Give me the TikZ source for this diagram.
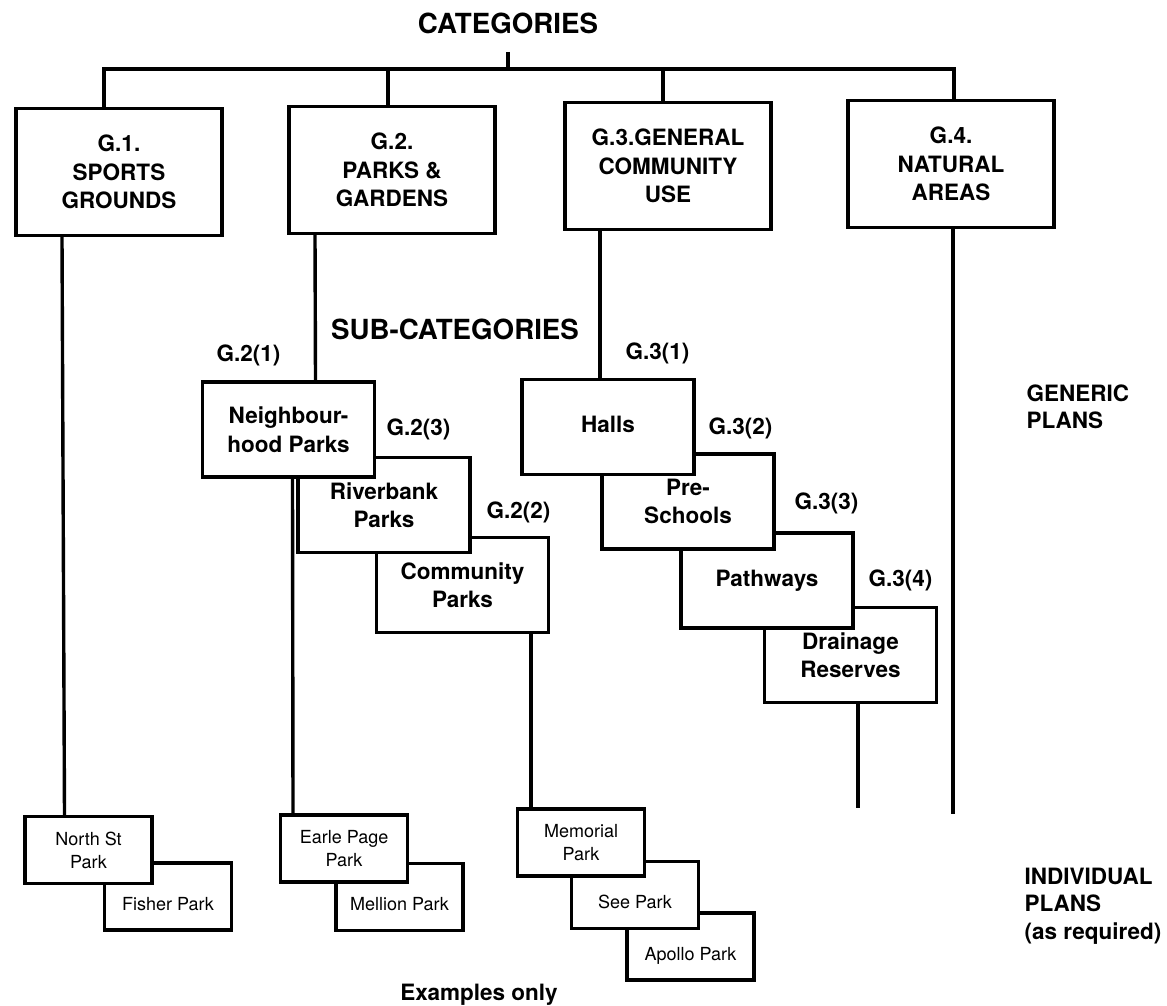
\documentclass[tikz,border=0pt]{standalone}
\usepackage{fontspec}
\setmainfont{TeX Gyre Heros}
\usetikzlibrary{positioning}

\begin{document}
\begin{tikzpicture}[x=1pt, y=-1pt, line width=3.4pt,
    catbox/.style={draw, fill=white, minimum width=206, minimum height=127, inner sep=0pt, align=center,
                   font=\fontsize{22.5}{28.5}\selectfont\bfseries},
    subbox/.style={draw, fill=white, minimum width=172, minimum height=95, inner sep=0pt, align=center,
                   font=\fontsize{22.5}{28.5}\selectfont\bfseries},
    parkbox/.style={draw, fill=white, minimum width=127, minimum height=67, inner sep=0pt, align=center,
                    font=\fontsize{18}{23}\selectfont},
    parkone/.style={parkbox, text height=27pt, text depth=0pt},
    head/.style={inner sep=0pt, anchor=base, font=\fontsize{27.7}{33}\selectfont\bfseries},
    lbl/.style={inner sep=0pt, anchor=base west, font=\fontsize{22.5}{27}\selectfont\bfseries},
    note/.style={inner sep=0pt, anchor=north west, align=left, font=\fontsize{22.5}{27.5}\selectfont\bfseries}]

    \fill[white] (0,0) rectangle (1167,1006);
    \useasboundingbox (0,0) rectangle (1167,1006);

    \node[head]     (cat)        at (508,34)      {CATEGORIES};
    \coordinate     (tick)       at (508,52);
    \coordinate     (bus)        at (508,69);

    \node[catbox]   (g1)         at (119,172)     {G.1.\\SPORTS\\GROUNDS};
    \node[catbox]   (g2)         at (392,170)     {G.2.\\PARKS \&\\GARDENS};
    \node[catbox]   (g3)         at (668,166)     {G.3.GENERAL\\COMMUNITY\\USE};
    \node[catbox]   (g4)         at (951,164)     {G.4.\\NATURAL\\AREAS};

    \node[head]     (subcat)     at (455,339.5)   {SUB-CATEGORIES};

    \node[subbox]   (community)  at (462.5,585)   {Community\\Parks};
    \node[subbox]   (riverbank)  at (384,505)     {Riverbank\\Parks};
    \node[subbox]   (neighbour)  at (288.5,429.5) {Neighbour-\\hood Parks};
    \node[subbox]   (drainage)   at (850.5,655)   {Drainage\\Reserves};
    \node[subbox]   (pathways)   at (767,580.5)   {Pathways};
    \node[subbox]   (preschools) at (688,501.5)   {Pre-\\Schools};
    \node[subbox, text depth=5pt] (halls) at (608,427) {Halls};

    \node[lbl]      (l21)        at (215,361)     {G.2(1)};
    \node[lbl]      (l23)        at (385,435)     {G.2(3)};
    \node[lbl]      (l22)        at (485,518)     {G.2(2)};
    \node[lbl]      (l31)        at (624,359)     {G.3(1)};
    \node[lbl]      (l32)        at (707,434)     {G.3(2)};
    \node[lbl]      (l33)        at (793,509)     {G.3(3)};
    \node[lbl]      (l34)        at (867,586)     {G.3(4)};

    \node[parkone]  (fisher)     at (168,896.5)   {Fisher Park};
    \node[parkbox]  (northst)    at (88.5,850)    {North St\\Park};
    \node[parkone]  (mellion)    at (399.5,897)   {Mellion Park};
    \node[parkbox]  (earle)      at (344,848.5)   {Earle Page\\Park};
    \node[parkone]  (apollo)     at (690.5,946.5) {Apollo Park};
    \node[parkone]  (seepark)    at (635,895)     {See Park};
    \node[parkbox]  (memorial)   at (581,842.5)   {Memorial\\Park};

    \node[note]     (generic)    at (1025,383)    {GENERIC\\PLANS};
    \node[note]     (individual) at (1023,866)    {INDIVIDUAL\\PLANS\\(as required)};
    \node[lbl, anchor=base] (examples) at (479,1000) {Examples only};

    \coordinate     (g4end)      at (953,814);
    \coordinate     (drainend)   at (858,808);

    \draw (tick) -- (bus);
    \draw ([xshift=-15]g1.north) |- (bus) -| ([xshift=3]g4.north);
    \draw ([xshift=-4]g2.north)  |- (bus);
    \draw ([xshift=-5]g3.north)  |- (bus);

    \draw ([xshift=-57]g1.south)        -- ([xshift=-24]northst.north);
    \draw ([xshift=-77]g2.south)        -- ([xshift=27]neighbour.north);
    \draw ([xshift=-68]g3.south)        -- ([xshift=-8]halls.north);
    \draw ([xshift=2]g4.south)          -- (g4end);
    \draw ([xshift=4]neighbour.south)   -- ([xshift=-51]earle.north);
    \draw ([xshift=68.5]community.south) -- ([xshift=-50]memorial.north);
    \draw ([xshift=7.5]drainage.south)  -- (drainend);
\end{tikzpicture}
\end{document}
